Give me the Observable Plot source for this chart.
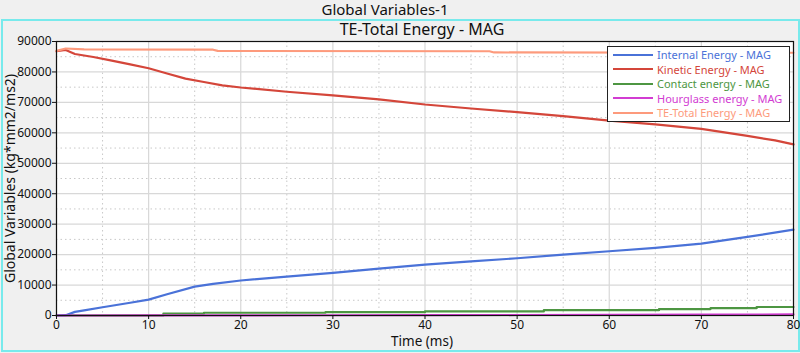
<!DOCTYPE html>
<html>
<head>
<meta charset="utf-8">
<script src="https://cdn.jsdelivr.net/npm/d3@7"></script>
<script src="https://cdn.jsdelivr.net/npm/@observablehq/plot@0.6"></script>
<style>
  html, body { margin: 0; padding: 0; background: #f0f0f0; }
  #wrap { position: relative; width: 800px; height: 353px; background: #f0f0f0; overflow: hidden; font-family: "Noto Sans", sans-serif; }
  #cyan { position: absolute; left: 1px; top: 19px; width: 795px; height: 329px; border: 2px solid #78eaec; }
  .t { position: absolute; white-space: nowrap; color: #111; line-height: 1; }
  #legend { position: absolute; left: 607px; top: 46px; width: 181px; height: 74px; background: white; border: 1px solid #222; font-size: 11px; line-height: 13px; }
  .li { position: absolute; left: 5px; height: 13px; display: flex; align-items: center; white-space: nowrap; }
  .sw { width: 40px; height: 2px; margin-right: 4px; flex: none; }
  #plot { position: absolute; left: 0; top: 0; }
</style>
</head>
<body>
<div id="wrap">
  <div id="cyan"></div>
  <div id="plot"></div>
  <div class="t" id="title" style="font-size:15px; left:385px; top:2px; transform:translateX(-50%);">Global Variables-1</div>
  <div class="t" id="sub" style="font-size:16px; left:422px; top:21px; transform:translateX(-50%);">TE-Total Energy - MAG</div>
  <div id="legend"></div>
</div>
<script>
const seriesNames = ["Internal Energy - MAG","Kinetic Energy - MAG","Contact energy - MAG","Hourglass energy - MAG","TE-Total Energy - MAG"];
const seriesColors = ["#4a72d8","#d4463a","#4d9642","#d23cd2","#fd9a7c"];

const internalT = [0,1,2,3,5,8,10,12,15,17,20,25,30,35,40,45,50,55,60,65,70,75,80];
const internalV = [0,100,1200,1700,2700,4200,5200,7000,9500,10400,11500,12800,14000,15400,16700,17800,18800,20000,21100,22200,23600,25800,28200];

const kineticT = [0,1,2,4,6,8,10,12,14,16,18,20,25,30,35,40,45,50,55,60,65,70,75,78,80];
const kineticV = [86800,87200,85900,84900,83700,82500,81200,79500,77800,76700,75600,74900,73500,72300,71000,69300,68000,66800,65500,64000,62800,61300,59000,57500,56200];

const contactT = [0,11.6,16,29.2,40,52.9,65.4,71,76,80];
const contactV = [0,600,900,1100,1350,1750,2100,2400,2800,2800];

const hourglassT = [0,10,20,30,40,50,60,70,80];
const hourglassV = [0,30,60,90,120,160,200,300,350];

const teT = [0,1,3,17,17.5,47,47.5,80];
const teV = [86900,87700,87400,87300,86900,86800,86400,86300];

const xTicks = [0,10,20,30,40,50,60,70,80];
const xMinor = [5,15,25,35,45,55,65,75];
const yTicks = [0,10000,20000,30000,40000,50000,60000,70000,80000,90000];
const yMinor = [5000,15000,25000,35000,45000,55000,65000,75000,85000];

function rows(ts, vs, name) { return ts.map((t, i) => ({t, v: vs[i], name})); }
const data = [
  ...rows(internalT, internalV, seriesNames[0]),
  ...rows(kineticT, kineticV, seriesNames[1]),
  ...rows(hourglassT, hourglassV, seriesNames[3]),
  ...rows(teT, teV, seriesNames[4])
];
const contactData = rows(contactT, contactV, seriesNames[2]);

const plot = Plot.plot({
  width: 800, height: 353,
  marginLeft: 56, marginRight: 7, marginTop: 41, marginBottom: 38,
  style: { background: "transparent", fontFamily: "Noto Sans, sans-serif", fontSize: "12px", color: "#111", overflow: "visible" },
  x: { domain: [0, 80] },
  y: { domain: [0, 90000] },
  color: { domain: seriesNames, range: seriesColors },
  marks: [
    Plot.frame({ fill: "white", stroke: null }),
    Plot.ruleX(xMinor, { stroke: "#c8c8c8", strokeDasharray: "1.5,3", strokeWidth: 1 }),
    Plot.ruleY(yMinor, { stroke: "#c8c8c8", strokeDasharray: "1.5,3", strokeWidth: 1 }),
    Plot.ruleX(xTicks, { stroke: "#d8d8d8", strokeWidth: 1.2 }),
    Plot.ruleY(yTicks, { stroke: "#d8d8d8", strokeWidth: 1.2 }),
    Plot.line(contactData, { x: "t", y: "v", stroke: seriesColors[2], strokeWidth: 2.2, curve: "step-after" }),
    Plot.line(data, { x: "t", y: "v", z: "name", stroke: "name", strokeWidth: 2.2 }),
    Plot.frame({ stroke: "#111", strokeWidth: 1.2 }),
    Plot.axisY({ ticks: yTicks, tickSize: 4, tickPadding: 1, tickFormat: d => String(d), label: null, fontSize: 12 }),
    Plot.axisX({ ticks: xTicks, tickSize: 4, tickPadding: 1, tickFormat: d => String(d), label: null, fontSize: 12 }),
    Plot.text(["Time (ms)"], { frameAnchor: "bottom", dy: 30, dx: -3, fontSize: 13.5, fill: "#111", textAnchor: "middle" }),
    Plot.text(["Global Variables (kg*mm2/ms2)"], { frameAnchor: "left", dx: -46, rotate: -90, fontSize: 14, fill: "#111", textAnchor: "middle" })
  ]
});
document.getElementById("plot").appendChild(plot);

const leg = document.getElementById("legend");
seriesNames.forEach((n, i) => {
  const d = document.createElement("div");
  d.className = "li";
  d.style.top = (1 + i * 14.5) + "px";
  d.innerHTML = `<div class="sw" style="background:${seriesColors[i]}"></div><span style="color:${seriesColors[i]}">${n}</span>`;
  leg.appendChild(d);
});
</script>
</body>
</html>
